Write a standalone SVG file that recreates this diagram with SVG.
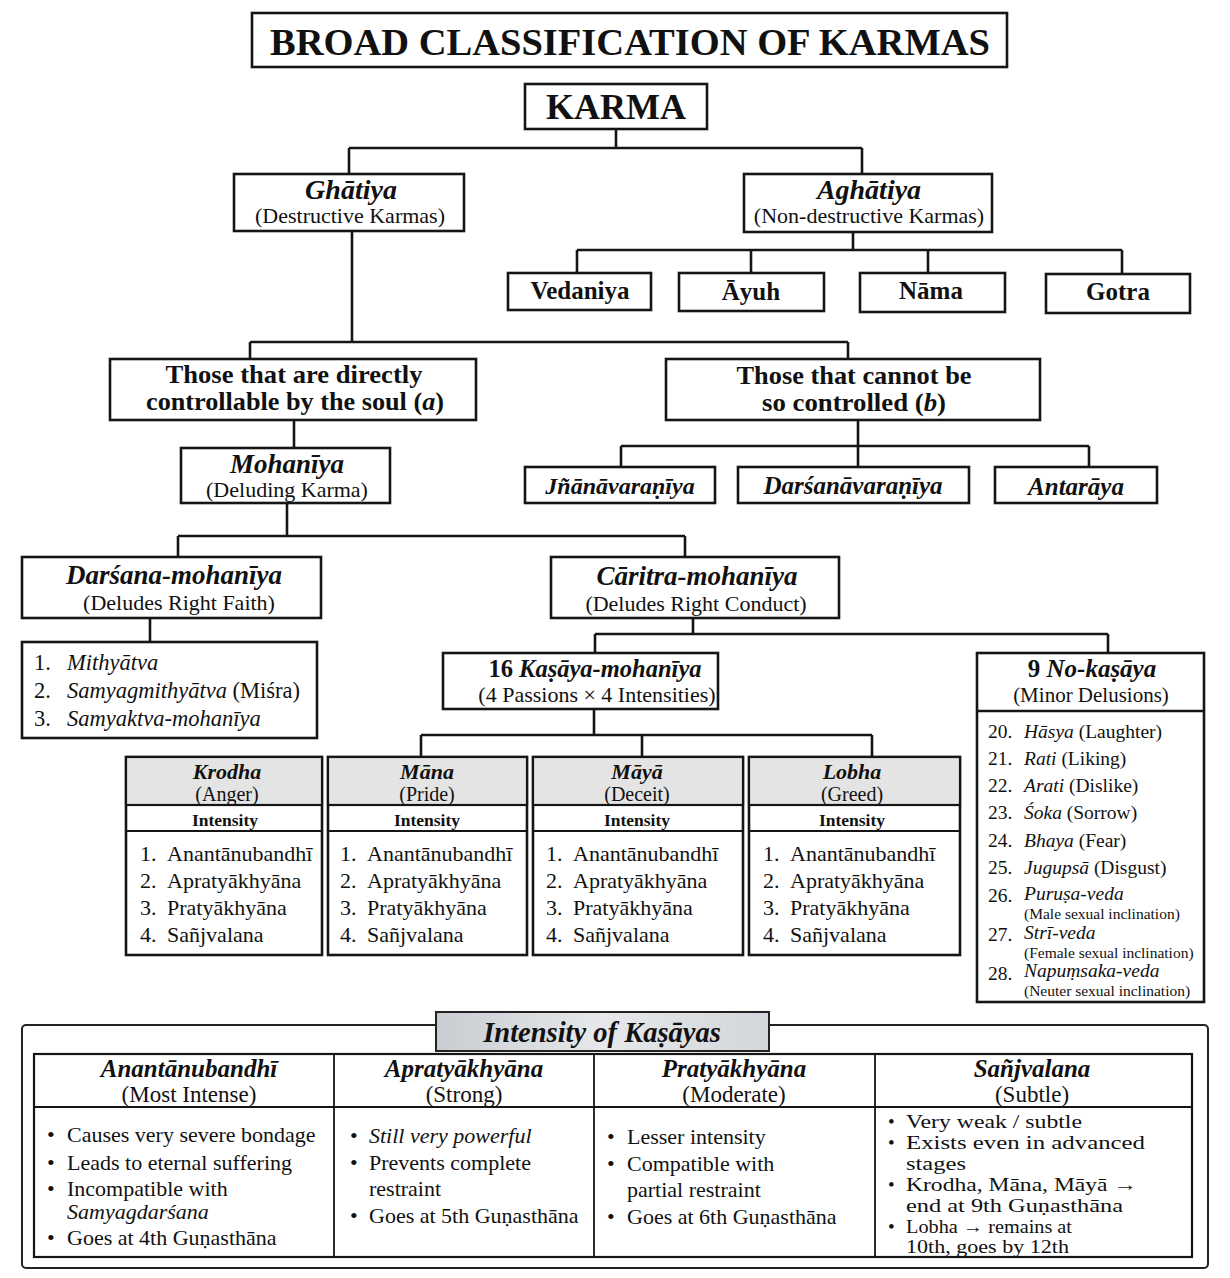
<svg xmlns="http://www.w3.org/2000/svg" width="1230" height="1278" viewBox="0 0 1230 1278">
<defs>
<style>
.bx{fill:#fff;stroke:#151515;stroke-width:2.6}
.hd{fill:#e4e4e4;stroke:#151515;stroke-width:2.2}
.ln{fill:none;stroke:#151515;stroke-width:2.6}
.dv{fill:none;stroke:#151515;stroke-width:1.8}
text{font-family:"Liberation Serif","DejaVu Serif",serif;fill:#111}
.c{text-anchor:middle}
.b{font-weight:bold}
.i{font-style:italic}
.n1{font-size:24.5px;font-weight:bold}
.n2{font-size:22px}
.it{font-size:22px}
.nk{font-size:19.5px}
.sm{font-size:15.5px}
.li{font-size:22.5px}
.bt{font-size:22px}
.b4{font-size:19px}
</style>
<linearGradient id="tab" x1="0" y1="0" x2="1" y2="0">
<stop offset="0" stop-color="#c9ccd1"/>
<stop offset="0.5" stop-color="#e6e8eb"/>
<stop offset="1" stop-color="#d3d6da"/>
</linearGradient>
</defs>
<rect width="1230" height="1278" fill="#fff"/>

<g id="connectors">
<path class="ln" d="M616 129V148M349 148H862M349 148V174M862 148V174"/>
<path class="ln" d="M853 232V250M577 250H1122M577 250V273M751 250V273M928 250V273M1122 250V274"/>
<path class="ln" d="M352 231V342M250 342H848M250 342V359M848 342V359"/>
<path class="ln" d="M294 420V448"/>
<path class="ln" d="M858 420V446M621 446H1089M621 446V467M858 446V467M1089 446V467"/>
<path class="ln" d="M287 503V536M178 536H685M178 536V557M685 536V557"/>
<path class="ln" d="M150 618V642"/>
<path class="ln" d="M693 618V634M595 634H1108M595 634V653M1108 634V653"/>
<path class="ln" d="M594 709V735M421 735H872M421 735V757M642 735V757M872 735V757"/>
</g>

<g id="title">
<rect class="bx" x="252" y="13" width="755" height="54"/>
<text class="c b" x="630" y="55" font-size="38" textLength="720" lengthAdjust="spacingAndGlyphs">BROAD CLASSIFICATION OF KARMAS</text>
</g>

<g id="karma">
<rect class="bx" x="525" y="84" width="182" height="45"/>
<text class="c b" x="616" y="119" font-size="36">KARMA</text>
</g>

<g id="ghatiya">
<rect class="bx" x="234" y="174" width="230" height="57"/>
<text class="c b i" x="351" y="199" font-size="28">Ghātiya</text>
<text class="c n2" x="350" y="223">(Destructive Karmas)</text>
</g>

<g id="aghatiya">
<rect class="bx" x="744" y="174" width="248" height="58"/>
<text class="c b i" x="869" y="199" font-size="28">Aghātiya</text>
<text class="c n2" x="869" y="223">(Non-destructive Karmas)</text>
</g>

<g id="vedaniya">
<rect class="bx" x="508" y="273" width="143" height="37"/>
<text class="c b" x="580" y="299" font-size="25">Vedaniya</text>
</g>
<g id="ayuh">
<rect class="bx" x="679" y="273" width="145" height="38"/>
<text class="c b" x="751" y="300" font-size="25">Āyuh</text>
</g>
<g id="nama">
<rect class="bx" x="860" y="273" width="145" height="39"/>
<text class="c b" x="931" y="299" font-size="25">Nāma</text>
</g>
<g id="gotra">
<rect class="bx" x="1046" y="274" width="144" height="39"/>
<text class="c b" x="1118" y="300" font-size="25">Gotra</text>
</g>

<g id="controllable">
<rect class="bx" x="110" y="359" width="366" height="61"/>
<text class="c n1" x="294" y="383" textLength="257" lengthAdjust="spacingAndGlyphs">Those that are directly</text>
<text class="c n1" x="295" y="410" textLength="298" lengthAdjust="spacingAndGlyphs">controllable by the soul (<tspan class="i">a</tspan>)</text>
</g>
<g id="notcontrolled">
<rect class="bx" x="666" y="359" width="374" height="61"/>
<text class="c n1" x="854" y="384" textLength="235" lengthAdjust="spacingAndGlyphs">Those that cannot be</text>
<text class="c n1" x="854" y="411" textLength="184" lengthAdjust="spacingAndGlyphs">so controlled (<tspan class="i">b</tspan>)</text>
</g>

<g id="mohaniya">
<rect class="bx" x="181" y="448" width="209" height="55"/>
<text class="c b i" x="287" y="473" font-size="27">Mohanīya</text>
<text class="c n2" x="287" y="497">(Deluding Karma)</text>
</g>

<g id="jnana">
<rect class="bx" x="525" y="467" width="190" height="36"/>
<text class="c b i" x="620" y="494" font-size="24">Jñānāvaraṇīya</text>
</g>
<g id="darsanavaraniya">
<rect class="bx" x="738" y="467" width="231" height="36"/>
<text class="c b i" x="853" y="494" font-size="25">Darśanāvaraṇīya</text>
</g>
<g id="antaraya">
<rect class="bx" x="995" y="467" width="162" height="36"/>
<text class="c b i" x="1076" y="495" font-size="25">Antarāya</text>
</g>

<g id="darsana-mohaniya">
<rect class="bx" x="22" y="557" width="299" height="61"/>
<text class="c b i" x="174" y="584" font-size="27">Darśana-mohanīya</text>
<text class="c n2" x="179" y="610">(Deludes Right Faith)</text>
</g>
<g id="caritra-mohaniya">
<rect class="bx" x="551" y="557" width="288" height="61"/>
<text class="c b i" x="697" y="585" font-size="27">Cāritra-mohanīya</text>
<text class="c n2" x="696" y="611">(Deludes Right Conduct)</text>
</g>

<g id="darsana-list">
<rect class="bx" x="22" y="642" width="295" height="96"/>
<text class="li" x="34" y="670">1.</text><text class="li i" x="67" y="670">Mithyātva</text>
<text class="li" x="34" y="698">2.</text><text class="li" x="67" y="698"><tspan class="i">Samyagmithyātva</tspan> (Miśra)</text>
<text class="li" x="34" y="726">3.</text><text class="li i" x="67" y="726">Samyaktva-mohanīya</text>
</g>

<g id="kasaya-mohaniya">
<rect class="bx" x="443" y="653" width="275" height="56"/>
<text class="c b" x="595" y="677" font-size="24.5">16 <tspan class="i">Kaṣāya-mohanīya</tspan></text>
<text class="c n2" x="597" y="702">(4 Passions × 4 Intensities)</text>
</g>

<g id="no-kasaya">
<rect class="bx" x="977" y="653" width="227" height="349"/>
<line class="ln" x1="977" y1="711" x2="1204" y2="711"/>
<text class="c b" x="1092" y="677" font-size="25">9 <tspan class="i">No-kaṣāya</tspan></text>
<text class="c" x="1091" y="702" font-size="21">(Minor Delusions)</text>
<text class="nk" x="988" y="738">20.</text><text class="nk" x="1024" y="738"><tspan class="i">Hāsya</tspan> (Laughter)</text>
<text class="nk" x="988" y="765">21.</text><text class="nk" x="1024" y="765"><tspan class="i">Rati</tspan> (Liking)</text>
<text class="nk" x="988" y="792">22.</text><text class="nk" x="1024" y="792"><tspan class="i">Arati</tspan> (Dislike)</text>
<text class="nk" x="988" y="819">23.</text><text class="nk" x="1024" y="819"><tspan class="i">Śoka</tspan> (Sorrow)</text>
<text class="nk" x="988" y="847">24.</text><text class="nk" x="1024" y="847"><tspan class="i">Bhaya</tspan> (Fear)</text>
<text class="nk" x="988" y="874">25.</text><text class="nk" x="1024" y="874"><tspan class="i">Jugupsā</tspan> (Disgust)</text>
<text class="nk" x="988" y="902">26.</text><text class="nk i" x="1024" y="900">Puruṣa-veda</text>
<text class="sm" x="1024" y="919">(Male sexual inclination)</text>
<text class="nk" x="988" y="941">27.</text><text class="nk i" x="1024" y="939">Strī-veda</text>
<text class="sm" x="1024" y="958">(Female sexual inclination)</text>
<text class="nk" x="988" y="980">28.</text><text class="nk i" x="1024" y="977">Napuṃsaka-veda</text>
<text class="sm" x="1024" y="996">(Neuter sexual inclination)</text>
</g>

<g id="krodha">
<rect class="bx" x="126" y="757" width="196" height="198"/>
<rect class="hd" x="126" y="757" width="196" height="48"/>
<line class="dv" x1="126" y1="831" x2="322" y2="831"/>
<text class="c b i" x="227" y="779" font-size="22">Krodha</text>
<text class="c" x="227" y="801" font-size="20">(Anger)</text>
<text class="c b" x="225" y="826" font-size="17.5">Intensity</text>
<text class="it" x="140" y="861">1.</text><text class="it" x="167" y="861">Anantānubandhī</text>
<text class="it" x="140" y="888">2.</text><text class="it" x="167" y="888">Apratyākhyāna</text>
<text class="it" x="140" y="915">3.</text><text class="it" x="167" y="915">Pratyākhyāna</text>
<text class="it" x="140" y="942">4.</text><text class="it" x="167" y="942">Sañjvalana</text>
</g>
<g id="mana">
<rect class="bx" x="328" y="757" width="199" height="198"/>
<rect class="hd" x="328" y="757" width="199" height="48"/>
<line class="dv" x1="328" y1="831" x2="527" y2="831"/>
<text class="c b i" x="427" y="779" font-size="22">Māna</text>
<text class="c" x="427" y="801" font-size="20">(Pride)</text>
<text class="c b" x="427" y="826" font-size="17.5">Intensity</text>
<text class="it" x="340" y="861">1.</text><text class="it" x="367" y="861">Anantānubandhī</text>
<text class="it" x="340" y="888">2.</text><text class="it" x="367" y="888">Apratyākhyāna</text>
<text class="it" x="340" y="915">3.</text><text class="it" x="367" y="915">Pratyākhyāna</text>
<text class="it" x="340" y="942">4.</text><text class="it" x="367" y="942">Sañjvalana</text>
</g>
<g id="maya">
<rect class="bx" x="533" y="757" width="210" height="198"/>
<rect class="hd" x="533" y="757" width="210" height="48"/>
<line class="dv" x1="533" y1="831" x2="743" y2="831"/>
<text class="c b i" x="637" y="779" font-size="22">Māyā</text>
<text class="c" x="637" y="801" font-size="20">(Deceit)</text>
<text class="c b" x="637" y="826" font-size="17.5">Intensity</text>
<text class="it" x="546" y="861">1.</text><text class="it" x="573" y="861">Anantānubandhī</text>
<text class="it" x="546" y="888">2.</text><text class="it" x="573" y="888">Apratyākhyāna</text>
<text class="it" x="546" y="915">3.</text><text class="it" x="573" y="915">Pratyākhyāna</text>
<text class="it" x="546" y="942">4.</text><text class="it" x="573" y="942">Sañjvalana</text>
</g>
<g id="lobha">
<rect class="bx" x="749" y="757" width="211" height="198"/>
<rect class="hd" x="749" y="757" width="211" height="48"/>
<line class="dv" x1="749" y1="831" x2="960" y2="831"/>
<text class="c b i" x="852" y="779" font-size="22">Lobha</text>
<text class="c" x="852" y="801" font-size="20">(Greed)</text>
<text class="c b" x="852" y="826" font-size="17.5">Intensity</text>
<text class="it" x="763" y="861">1.</text><text class="it" x="790" y="861">Anantānubandhī</text>
<text class="it" x="763" y="888">2.</text><text class="it" x="790" y="888">Apratyākhyāna</text>
<text class="it" x="763" y="915">3.</text><text class="it" x="790" y="915">Pratyākhyāna</text>
<text class="it" x="763" y="942">4.</text><text class="it" x="790" y="942">Sañjvalana</text>
</g>

<g id="intensity-table">
<rect x="22" y="1025" width="1186" height="243" rx="4" fill="#fff" stroke="#222" stroke-width="2"/>
<rect x="436" y="1012" width="333" height="39" fill="url(#tab)" stroke="#222" stroke-width="2"/>
<text class="c b i" x="602" y="1042" font-size="28.5">Intensity of Kaṣāyas</text>
<rect x="34" y="1054" width="1158" height="203" fill="none" stroke="#151515" stroke-width="2.2"/>
<line class="dv" x1="34" y1="1107" x2="1192" y2="1107"/>
<line class="dv" x1="334" y1="1054" x2="334" y2="1257"/>
<line class="dv" x1="594" y1="1054" x2="594" y2="1257"/>
<line class="dv" x1="875" y1="1054" x2="875" y2="1257"/>
<text class="c b i" x="189" y="1077" font-size="25">Anantānubandhī</text>
<text class="c" x="189" y="1102" font-size="23">(Most Intense)</text>
<text class="c b i" x="464" y="1077" font-size="25">Apratyākhyāna</text>
<text class="c" x="464" y="1102" font-size="23">(Strong)</text>
<text class="c b i" x="734" y="1077" font-size="25">Pratyākhyāna</text>
<text class="c" x="734" y="1102" font-size="23">(Moderate)</text>
<text class="c b i" x="1032" y="1077" font-size="25">Sañjvalana</text>
<text class="c" x="1032" y="1102" font-size="23">(Subtle)</text>
<text class="bt" x="47" y="1142">•</text><text class="bt" x="67" y="1142">Causes very severe bondage</text>
<text class="bt" x="47" y="1170">•</text><text class="bt" x="67" y="1170">Leads to eternal suffering</text>
<text class="bt" x="47" y="1196">•</text><text class="bt" x="67" y="1196">Incompatible with</text>
<text class="bt i" x="67" y="1219">Samyagdarśana</text>
<text class="bt" x="47" y="1245">•</text><text class="bt" x="67" y="1245">Goes at 4th Guṇasthāna</text>
<text class="bt" x="350" y="1143">•</text><text class="bt i" x="369" y="1143">Still very powerful</text>
<text class="bt" x="350" y="1170">•</text><text class="bt" x="369" y="1170">Prevents complete</text>
<text class="bt" x="369" y="1196">restraint</text>
<text class="bt" x="350" y="1223">•</text><text class="bt" x="369" y="1223">Goes at 5th Guṇasthāna</text>
<text class="bt" x="607" y="1144">•</text><text class="bt" x="627" y="1144">Lesser intensity</text>
<text class="bt" x="607" y="1171">•</text><text class="bt" x="627" y="1171">Compatible with</text>
<text class="bt" x="627" y="1197">partial restraint</text>
<text class="bt" x="607" y="1224">•</text><text class="bt" x="627" y="1224">Goes at 6th Guṇasthāna</text>
<text class="b4" x="888" y="1128">•</text><text class="b4" x="906" y="1128" textLength="176" lengthAdjust="spacingAndGlyphs">Very weak / subtle</text>
<text class="b4" x="888" y="1149">•</text><text class="b4" x="906" y="1149" textLength="239" lengthAdjust="spacingAndGlyphs">Exists even in advanced</text>
<text class="b4" x="906" y="1170" textLength="60" lengthAdjust="spacingAndGlyphs">stages</text>
<text class="b4" x="888" y="1191">•</text><text class="b4" x="906" y="1191" textLength="231" lengthAdjust="spacingAndGlyphs">Krodha, Māna, Māyā →</text>
<text class="b4" x="906" y="1212" textLength="217" lengthAdjust="spacingAndGlyphs">end at 9th Guṇasthāna</text>
<text class="b4" x="888" y="1233">•</text><text class="b4" x="906" y="1233" textLength="166" lengthAdjust="spacingAndGlyphs">Lobha → remains at</text>
<text class="b4" x="906" y="1253" textLength="163" lengthAdjust="spacingAndGlyphs">10th, goes by 12th</text>
</g>
</svg>
